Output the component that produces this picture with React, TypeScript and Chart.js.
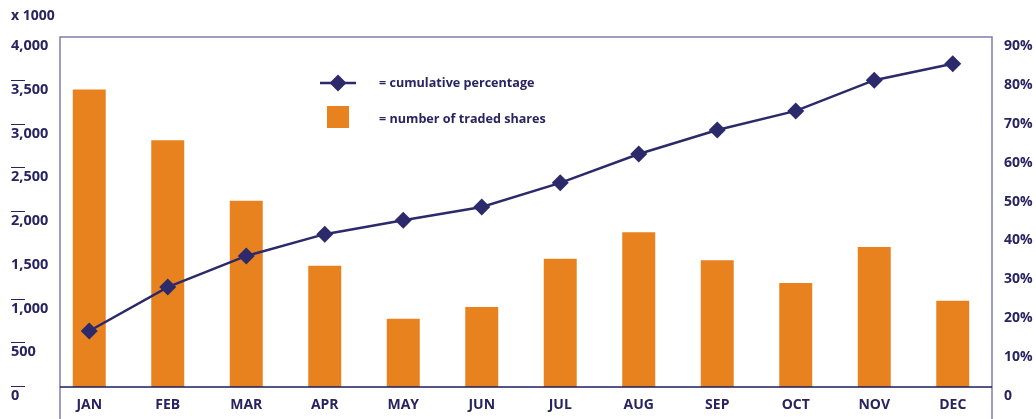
import React, { useEffect, useRef } from "react";
import { Chart, registerables } from "chart.js";

Chart.register(...registerables);

const months = ["JAN", "FEB", "MAR", "APR", "MAY", "JUN", "JUL", "AUG", "SEP", "OCT", "NOV", "DEC"];
const tradedShares = [3400, 2820, 2130, 1385, 780, 915, 1465, 1770, 1450, 1190, 1600, 985];
const cumulativePct = [14.4, 25.7, 33.7, 39.3, 42.9, 46.3, 52.5, 59.9, 66.1, 71.0, 78.9, 83.1];
const leftTickMarks = [0, 500, 1000, 2000, 2500, 3000, 3500];
const legendLine = "= cumulative percentage";
const legendBar = "= number of traded shares";
const unitLabel = "x 1000";

const NAVY = "#27245f";
const LINE = "#2d2a6b";
const ORANGE = "#e8821e";
const FRAME = "#7f7cab";
const FONT = "'Open Sans', sans-serif";

const decorPlugin = {
  id: "decor",
  afterDraw(chart: any) {
    const { ctx, chartArea } = chart;
    const ys = chart.scales.y;
    const top = chartArea.top;
    const left = chartArea.left + 10;
    const right = chartArea.right;
    const H = chart.height;
    ctx.save();
    // frame
    ctx.strokeStyle = FRAME;
    ctx.lineWidth = 1.5;
    ctx.beginPath();
    ctx.moveTo(left, H);
    ctx.lineTo(left, top);
    ctx.lineTo(right, top);
    ctx.lineTo(right, H);
    ctx.stroke();
    // baseline
    ctx.strokeStyle = "#1e1b58";
    ctx.lineWidth = 1.5;
    ctx.beginPath();
    const by = ys.getPixelForValue(0);
    ctx.moveTo(left, by);
    ctx.lineTo(right, by);
    ctx.stroke();
    // small overlines on left tick labels
    ctx.strokeStyle = NAVY;
    ctx.lineWidth = 1;
    for (const v of leftTickMarks) {
      const y = Math.round(ys.getPixelForValue(v)) - 0.5;
      ctx.beginPath();
      ctx.moveTo(11, y);
      ctx.lineTo(25, y);
      ctx.stroke();
    }
    // unit label
    ctx.fillStyle = NAVY;
    ctx.font = `bold 14px ${FONT}`;
    ctx.textBaseline = "middle";
    ctx.textAlign = "left";
    ctx.fillText(unitLabel, 11, 16);
    // legend
    const lx = 320, ly = 83;
    ctx.strokeStyle = LINE;
    ctx.lineWidth = 2.5;
    ctx.beginPath();
    ctx.moveTo(lx, ly);
    ctx.lineTo(lx + 36, ly);
    ctx.stroke();
    ctx.fillStyle = LINE;
    ctx.beginPath();
    ctx.moveTo(lx + 18, ly - 8.5);
    ctx.lineTo(lx + 26.5, ly);
    ctx.lineTo(lx + 18, ly + 8.5);
    ctx.lineTo(lx + 9.5, ly);
    ctx.closePath();
    ctx.fill();
    ctx.fillStyle = ORANGE;
    ctx.fillRect(327, 106, 22, 22);
    ctx.fillStyle = NAVY;
    ctx.font = `bold 12.6px ${FONT}`;
    ctx.fillText(legendLine, 379, ly);
    ctx.fillText(legendBar, 379, 119);
    ctx.restore();
  },
};

export default function App() {
  const ref = useRef<HTMLCanvasElement | null>(null);
  useEffect(() => {
    document.body.style.margin = "0";
    const chart = new Chart(ref.current!, {
      type: "bar",
      data: {
        labels: months,
        datasets: [
          {
            type: "line",
            label: "cumulative percentage",
            data: cumulativePct,
            yAxisID: "y1",
            borderColor: LINE,
            backgroundColor: LINE,
            borderWidth: 2.5,
            pointStyle: "rectRot",
            pointRadius: 8.5,
            pointBackgroundColor: LINE,
            pointBorderWidth: 0,
            tension: 0,
            order: 0,
          } as any,
          {
            type: "bar",
            label: "number of traded shares",
            data: tradedShares,
            yAxisID: "y",
            backgroundColor: ORANGE,
            barPercentage: 0.42,
            categoryPercentage: 1,
            order: 1,
          },
        ],
      },
      options: {
        animation: false,
        responsive: true,
        maintainAspectRatio: false,
        layout: { padding: { top: 37, left: 11, right: 0, bottom: 0 } },
        plugins: { legend: { display: false }, tooltip: { enabled: false } },
        scales: {
          x: {
            offset: true,
            grid: { display: false, drawTicks: false },
            border: { display: false },
            ticks: { color: NAVY, font: { family: FONT, size: 14, weight: "bold" }, padding: 10 },
            afterFit(scale: any) {
              scale.height = 32;
            },
          },
          y: {
            position: "left",
            min: 0,
            max: 4000,
            grid: { display: false, drawTicks: false },
            border: { display: false },
            ticks: {
              stepSize: 500,
              crossAlign: "far",
              labelOffset: 9,
              padding: 0,
              color: NAVY,
              font: { family: FONT, size: 14.5, weight: "bold" },
              callback: (v: any) => Number(v).toLocaleString("en-US"),
            },
            afterFit(scale: any) {
              scale.width = 39;
            },
          },
          y1: {
            position: "right",
            min: 0,
            max: 90,
            grid: { display: false, drawTicks: false },
            border: { display: false },
            ticks: {
              stepSize: 10,
              labelOffset: 9,
              padding: 12,
              color: NAVY,
              font: { family: FONT, size: 14, weight: "bold" },
              callback: (v: any) => (Number(v) === 0 ? "0" : `${v}%`),
            },
            afterFit(scale: any) {
              scale.width = 44;
            },
          },
        },
      },
      plugins: [decorPlugin],
    });
    return () => chart.destroy();
  }, []);
  return (
    <div style={{ position: "relative", width: 1036, height: 419 }}>
      <canvas ref={ref} />
    </div>
  );
}
